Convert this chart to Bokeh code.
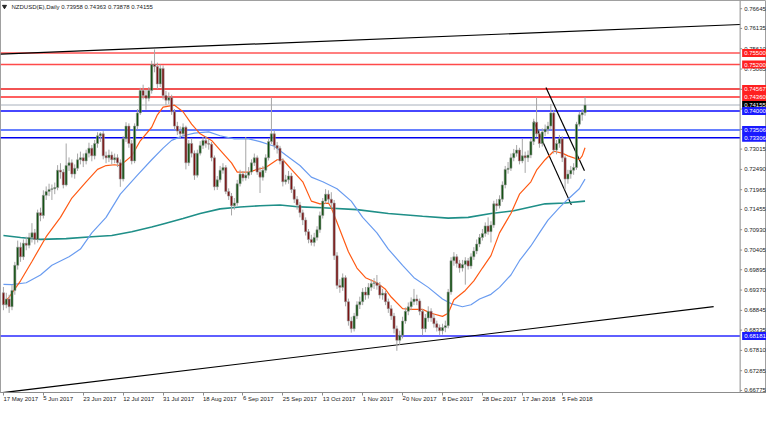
from bokeh.plotting import figure
from bokeh.models import ColumnDataSource, FixedTicker, Range1d, Label
from bokeh.core.properties import value
from bokeh.embed import file_html
from bokeh.resources import INLINE

symbol = "NZDUSD(E),Daily"

date_label_bars = [0, 14, 28, 42, 56, 70, 84, 98, 112, 126, 140, 154, 168, 182, 196]
date_labels = ["17 May 2017", "5 Jun 2017", "23 Jun 2017", "12 Jul 2017", "31 Jul 2017",
               "18 Aug 2017", "6 Sep 2017", "25 Sep 2017", "13 Oct 2017", "1 Nov 2017",
               "20 Nov 2017", "8 Dec 2017", "28 Dec 2017", "17 Jan 2018", "5 Feb 2018"]

price_ticks = [0.66775, 0.67285, 0.67810, 0.68335, 0.68845, 0.69370, 0.69895, 0.70405,
               0.70930, 0.71455, 0.71965, 0.72490, 0.73015, 0.73525, 0.74050, 0.74560,
               0.75085, 0.75610, 0.76135, 0.76645]

first_open = 0.6930
closes = [
    0.6899, 0.6914, 0.6894, 0.6936, 0.7001, 0.7048, 0.7023, 0.7058, 0.7053, 0.7073,
    0.7085, 0.7068, 0.7137, 0.7130, 0.7182, 0.7192, 0.7197, 0.7199, 0.7202, 0.7247,
    0.7242, 0.7209, 0.7259, 0.7266, 0.7237, 0.7252, 0.7274, 0.7279, 0.7271, 0.7291,
    0.7304, 0.7284, 0.7316, 0.7336, 0.7341, 0.7284, 0.7279, 0.7286, 0.7274, 0.7279,
    0.7266, 0.7224, 0.7328, 0.7361, 0.7316, 0.7271, 0.7361, 0.7395, 0.7453, 0.7440,
    0.7433, 0.7453, 0.7520, 0.7515, 0.7470, 0.7510, 0.7440, 0.7428, 0.7435, 0.7398,
    0.7361, 0.7348, 0.7341, 0.7358, 0.7266, 0.7316, 0.7291, 0.7234, 0.7291, 0.7311,
    0.7324, 0.7316, 0.7314, 0.7279, 0.7204, 0.7222, 0.7247, 0.7254, 0.7192, 0.7180,
    0.7155, 0.7162, 0.7212, 0.7237, 0.7227, 0.7234, 0.7242, 0.7266, 0.7279, 0.7242,
    0.7229, 0.7247, 0.7279, 0.7321, 0.7341, 0.7311, 0.7304, 0.7271, 0.7217, 0.7222,
    0.7232, 0.7197, 0.7172, 0.7157, 0.7137, 0.7118, 0.7088, 0.7068, 0.7060, 0.7073,
    0.7093, 0.7130, 0.7167, 0.7185, 0.7172, 0.7162, 0.7026, 0.6949, 0.6944, 0.6969,
    0.6907, 0.6857, 0.6837, 0.6870, 0.6899, 0.6907, 0.6932, 0.6924, 0.6944, 0.6954,
    0.6956, 0.6949, 0.6924, 0.6929, 0.6907, 0.6889, 0.6870, 0.6837, 0.6807, 0.6820,
    0.6857, 0.6882, 0.6894, 0.6907, 0.6914, 0.6909, 0.6882, 0.6837, 0.6865, 0.6882,
    0.6865, 0.6850, 0.6840, 0.6832, 0.6840, 0.6845, 0.6932, 0.7013, 0.7023, 0.7006,
    0.6994, 0.7003, 0.7013, 0.6999, 0.7023, 0.7038, 0.7056, 0.7073, 0.7083, 0.7103,
    0.7088, 0.7105, 0.7160, 0.7155, 0.7172, 0.7209, 0.7249, 0.7252, 0.7279, 0.7291,
    0.7299, 0.7271, 0.7284, 0.7279, 0.7286, 0.7321, 0.7371, 0.7341, 0.7316, 0.7346,
    0.7353, 0.7361, 0.7395, 0.7299, 0.7316, 0.7328, 0.7279, 0.7224, 0.7237, 0.7247,
    0.7254, 0.7366, 0.7390, 0.73958, 0.74155]
highs = [
    0.6945, 0.6930, 0.6925, 0.6950, 0.7010, 0.7065, 0.7060, 0.7068, 0.7075, 0.7085,
    0.7110, 0.7095, 0.7145, 0.7150, 0.7195, 0.7205, 0.7212, 0.7210, 0.7215, 0.7260,
    0.7265, 0.7250, 0.7316, 0.7280, 0.7275, 0.7262, 0.7290, 0.7295, 0.7290, 0.7300,
    0.7318, 0.7312, 0.7325, 0.7345, 0.7345, 0.7348, 0.7295, 0.7300, 0.7295, 0.7290,
    0.7288, 0.7275, 0.7335, 0.7371, 0.7368, 0.7325, 0.7368, 0.7405, 0.7460, 0.7468,
    0.7455, 0.7462, 0.7530, 0.7559, 0.7525, 0.7520, 0.7518, 0.7452, 0.7448, 0.7442,
    0.7405, 0.7372, 0.7360, 0.7368, 0.7362, 0.7325, 0.7330, 0.7298, 0.7300, 0.7322,
    0.7333, 0.7335, 0.7328, 0.7320, 0.7285, 0.7232, 0.7258, 0.7265, 0.7260, 0.7200,
    0.7188, 0.7175, 0.7222, 0.7248, 0.7245, 0.7333, 0.7255, 0.7275, 0.7290, 0.7285,
    0.7255, 0.7258, 0.7288, 0.7330, 0.7435, 0.7350, 0.7320, 0.7310, 0.7278, 0.7235,
    0.7245, 0.7240, 0.7205, 0.7180, 0.7165, 0.7145, 0.7125, 0.7095, 0.7080, 0.7085,
    0.7102, 0.7140, 0.7175, 0.7198, 0.7195, 0.7190, 0.7170, 0.7035, 0.6965, 0.6980,
    0.6975, 0.6915, 0.6868, 0.6878, 0.6908, 0.6920, 0.6942, 0.6945, 0.6955, 0.6965,
    0.6968, 0.6976, 0.6958, 0.6940, 0.6935, 0.6915, 0.6898, 0.6878, 0.6845, 0.6832,
    0.6868, 0.6892, 0.6905, 0.6918, 0.6940, 0.6925, 0.6915, 0.6888, 0.6875, 0.6895,
    0.6890, 0.6875, 0.6858, 0.6848, 0.6850, 0.6858, 0.6940, 0.7022, 0.7035, 0.7030,
    0.7015, 0.7015, 0.7022, 0.7020, 0.7032, 0.7048, 0.7068, 0.7082, 0.7095, 0.7112,
    0.7125, 0.7115, 0.7168, 0.7172, 0.7182, 0.7218, 0.7258, 0.7268, 0.7290, 0.7302,
    0.7312, 0.7305, 0.7328, 0.7295, 0.7298, 0.7330, 0.7380, 0.7435, 0.7350, 0.7355,
    0.7365, 0.7372, 0.7418, 0.7402, 0.7325, 0.7338, 0.7335, 0.7285, 0.7248, 0.7258,
    0.7265, 0.7372, 0.7398, 0.7405, 0.74363]
lows = [
    0.6885, 0.6890, 0.6878, 0.6885, 0.6925, 0.6990, 0.7010, 0.7015, 0.7040, 0.7045,
    0.7060, 0.7055, 0.7060, 0.7115, 0.7122, 0.7170, 0.7180, 0.7170, 0.7185, 0.7195,
    0.7225, 0.7200, 0.7205, 0.7245, 0.7228, 0.7225, 0.7245, 0.7262, 0.7255, 0.7262,
    0.7280, 0.7270, 0.7275, 0.7305, 0.7320, 0.7275, 0.7265, 0.7268, 0.7262, 0.7265,
    0.7255, 0.7204, 0.7218, 0.7320, 0.7305, 0.7262, 0.7265, 0.7352, 0.7390, 0.7430,
    0.7403, 0.7425, 0.7445, 0.7500, 0.7457, 0.7462, 0.7430, 0.7415, 0.7418, 0.7390,
    0.7352, 0.7338, 0.7330, 0.7332, 0.7249, 0.7258, 0.7280, 0.7222, 0.7228, 0.7285,
    0.7302, 0.7305, 0.7300, 0.7270, 0.7195, 0.7196, 0.7215, 0.7238, 0.7185, 0.7170,
    0.7130, 0.7145, 0.7155, 0.7205, 0.7218, 0.7220, 0.7225, 0.7235, 0.7258, 0.7235,
    0.7188, 0.7220, 0.7240, 0.7272, 0.7315, 0.7300, 0.7290, 0.7262, 0.7205, 0.7210,
    0.7212, 0.7188, 0.7162, 0.7145, 0.7125, 0.7105, 0.7078, 0.7058, 0.7052, 0.7050,
    0.7065, 0.7085, 0.7122, 0.7160, 0.7162, 0.7150, 0.7015, 0.6940, 0.6930, 0.6935,
    0.6895, 0.6845, 0.6827, 0.6830, 0.6862, 0.6888, 0.6898, 0.6912, 0.6915, 0.6935,
    0.6940, 0.6938, 0.6915, 0.6912, 0.6898, 0.6878, 0.6860, 0.6825, 0.6780, 0.6795,
    0.6812, 0.6850, 0.6872, 0.6885, 0.6898, 0.6898, 0.6872, 0.6820, 0.6828, 0.6855,
    0.6855, 0.6840, 0.6830, 0.6820, 0.6822, 0.6828, 0.6838, 0.6925, 0.7000, 0.6995,
    0.6982, 0.6985, 0.6951, 0.6990, 0.6992, 0.7015, 0.7030, 0.7048, 0.7065, 0.7075,
    0.7080, 0.7060, 0.7098, 0.7142, 0.7148, 0.7165, 0.7200, 0.7238, 0.7245, 0.7270,
    0.7282, 0.7262, 0.7265, 0.7240, 0.7268, 0.7278, 0.7312, 0.7332, 0.7305, 0.7308,
    0.7335, 0.7340, 0.7352, 0.7290, 0.7288, 0.7305, 0.7268, 0.7197, 0.7212, 0.7225,
    0.7235, 0.7248, 0.7360, 0.7375, 0.73878]

fast_ma_bars = [0, 2, 6, 10, 15, 20, 24, 29, 33, 36, 39, 41, 45, 48, 52, 54, 56, 60, 63, 66,
                69, 73, 76, 80, 82, 86, 89, 92, 96, 98, 101, 105, 108, 111, 114, 115, 118, 121, 124, 127,
                131, 134, 136, 140, 143, 147, 150, 154, 156, 158, 162, 165, 168, 171, 174, 178, 181, 185, 187, 190,
                193, 196, 198, 202, 203, 204]
fast_ma = [0.6902, 0.6919, 0.6961, 0.7011, 0.7075, 0.7125, 0.7175, 0.7217, 0.7249, 0.7259,
           0.7261, 0.7259, 0.7284, 0.7323, 0.7358, 0.7390, 0.7410, 0.7415, 0.7398, 0.7366,
           0.7341, 0.7324, 0.7299, 0.7266, 0.7242, 0.7242, 0.7249, 0.7254, 0.7274, 0.7274,
           0.7249, 0.7217, 0.7167, 0.7160, 0.7162, 0.7150, 0.7093, 0.7036, 0.6994, 0.6969,
           0.6956, 0.6939, 0.6919, 0.6889, 0.6887, 0.6887, 0.6877, 0.6869, 0.6877, 0.6912,
           0.6936, 0.6961, 0.6994, 0.7026, 0.7085, 0.7135, 0.7185, 0.7217, 0.7247, 0.7274,
           0.7296, 0.7291, 0.7284, 0.7274, 0.7284, 0.7305]

mid_ma_bars = [0, 3, 8, 13, 17, 23, 27, 31, 36, 41, 47, 52, 56, 59, 63, 67, 72, 76, 81, 86,
               90, 95, 99, 104, 108, 112, 117, 122, 126, 131, 135, 140, 144, 149, 154, 157, 161, 164, 167, 171,
               174, 178, 181, 185, 188, 191, 195, 198, 202, 204]
mid_ma = [0.6952, 0.6951, 0.6956, 0.6976, 0.7001, 0.7023, 0.7043, 0.7085, 0.7125, 0.7185,
          0.7234, 0.7274, 0.7304, 0.7324, 0.7336, 0.7343, 0.7346, 0.7336, 0.7328, 0.7328,
          0.7321, 0.7309, 0.7286, 0.7259, 0.7229, 0.7217, 0.7199, 0.7167, 0.7125, 0.7085,
          0.7043, 0.7001, 0.6969, 0.6944, 0.6914, 0.6902, 0.6894, 0.6899, 0.6914, 0.6926,
          0.6944, 0.6976, 0.7013, 0.7051, 0.7085, 0.7118, 0.7150, 0.7172, 0.7199, 0.7224]

slow_ma_bars = [0, 6, 13, 22, 31, 38, 45, 52, 56, 63, 69, 76, 83, 90, 97, 104, 112, 124, 135, 147,
                156, 163, 171, 179, 190, 197, 204]
slow_ma = [0.7078, 0.7073, 0.7068, 0.7070, 0.7075, 0.7078, 0.7088, 0.7100, 0.7108, 0.7122,
           0.7135, 0.7147, 0.7152, 0.7155, 0.7157, 0.7152, 0.7150, 0.7145, 0.7135, 0.7128,
           0.7123, 0.7125, 0.7135, 0.7142, 0.7160, 0.7162, 0.7167]

resistance_levels = [0.75500, 0.75200, 0.74567, 0.74360]
support_levels = [0.74000, 0.73506, 0.73306, 0.68181]
last_price = 0.74155

channel_top_bars = [-1.03, 258.4]
channel_top_prices = [0.75468, 0.76237]
channel_bottom_bars = [-1.03, 249.1]
channel_bottom_prices = [0.66710, 0.68943]
wedge_upper_bars = [190.3, 203.8]
wedge_upper_prices = [0.74607, 0.72458]
wedge_lower_bars = [185.9, 199.2]
wedge_lower_prices = [0.73739, 0.71573]

# ---------------------------------------------------------------
FONT = "Liberation Sans"
W, H = 766, 407
X0 = -1.03            # left edge of the chart area (bars)
X_AXIS = 258.4        # price-scale line (bars)
PX_PER_BAR = 2.851
X_END = X0 + W / PX_PER_BAR
Y0, Y1 = 0.66722, 0.76857
FRAME_H = 392.0
PX = (Y1 - Y0) / FRAME_H   # price per pixel
BX = 1.0 / PX_PER_BAR      # bars per pixel

opens = [first_open] + closes[:-1]
n = len(closes)
bars = list(range(n))
up = [c >= o for o, c in zip(opens, closes)]

p = figure(width=W, height=H, x_range=Range1d(X0, X_END), y_range=Range1d(Y0, Y1),
           output_backend="svg", toolbar_location=None, y_axis_location=None,
           min_border_left=0, min_border_top=0, min_border_right=0, min_border_bottom=0)
p.xgrid.visible = False
p.ygrid.visible = False
p.outline_line_color = "#a0a0a0"
p.background_fill_color = "white"
p.border_fill_color = "white"

ax = p.xaxis
ax.axis_line_color = "#8c8c8c"
ax.major_tick_line_color = "#8c8c8c"
ax.major_tick_out = 3
ax.major_tick_in = 0
ax.minor_tick_line_color = None
ax.major_label_text_font = FONT
ax.major_label_text_font_size = "6px"
ax.major_label_text_color = "#222222"
ax.major_label_orientation = -0.0001   # near-horizontal: labels start at their tick
ax.major_label_standoff = 3
ax.ticker = FixedTicker(ticks=date_label_bars)
ax.major_label_overrides = {float(b): t for b, t in zip(date_label_bars, date_labels)}

# horizontal levels (stop at the price scale)
res_colors = ["#ff5555", "#ff4a4a", "#ee1a1a", "#ff2a2a"]
sup_colors = ["#0a0aff", "#3355ff", "#0000ee", "#2a2aff"]
lvl_src = ColumnDataSource(dict(y=resistance_levels + support_levels + [last_price],
                                col=res_colors + sup_colors + ["#a8b0bc"],
                                w=[1.5] * 8 + [1.0]))
p.segment(x0=X0, y0="y", x1=X_AXIS, y1="y", source=lvl_src, line_color="col", line_width="w")

# trend lines
p.line(channel_top_bars, channel_top_prices, line_color="black", line_width=1.2)
p.line(channel_bottom_bars, channel_bottom_prices, line_color="black", line_width=1.2)
p.line(wedge_upper_bars, wedge_upper_prices, line_color="black", line_width=1.2)
p.line(wedge_lower_bars, wedge_lower_prices, line_color="black", line_width=1.2)

# moving averages
p.line(slow_ma_bars, slow_ma, line_color="#1f8f88", line_width=1.6)
p.line(mid_ma_bars, mid_ma, line_color="#6a9cf0", line_width=1.2)
p.line(fast_ma_bars, fast_ma, line_color="#ff5a14", line_width=1.2)

# candles
src = ColumnDataSource(dict(
    x=bars, high=highs, low=lows,
    top=[max(o, c) for o, c in zip(opens, closes)],
    bottom=[min(o, c) for o, c in zip(opens, closes)],
    fill=["#0d4f0d" if u else "#7a1010" for u in up],
))
p.segment(x0="x", y0="low", x1="x", y1="high", source=src, line_color="#a6a6a6", line_width=1)
p.vbar(x="x", width=0.75, top="top", bottom="bottom", source=src,
       fill_color="fill", line_color="#9a9a9a", line_width=0.6)

# price scale on the right (drawn on the chart's own y scale)
p.segment(x0=X_AXIS, y0=Y0, x1=X_AXIS, y1=Y1, line_color="#8c8c8c", line_width=1)
tick_src = ColumnDataSource(dict(y=price_ticks, txt=[f"{t:.5f}" for t in price_ticks]))
p.segment(x0=X_AXIS, y0="y", x1=X_AXIS + 2 * BX, y1="y", source=tick_src, line_color="#8c8c8c")
p.text(x=X_AXIS + 4 * BX, y="y", text="txt", source=tick_src, text_font=value(FONT),
       text_font_size="6px", text_color="#222222", text_align="left", text_baseline="middle")

box_levels = resistance_levels + [last_price] + support_levels
box_colors = ["#ff2020"] * 4 + ["#000000"] + ["#1a1aff"] * 4
box_src = ColumnDataSource(dict(
    y=box_levels, col=box_colors, txt=[f"{v:.5f}" for v in box_levels],
    b=[v - 4 * PX for v in box_levels], t=[v + 4 * PX for v in box_levels]))
p.quad(left=X_AXIS + 2 * BX, right=X_END, bottom="b", top="t", source=box_src,
       fill_color="col", line_color=None)
p.text(x=X_AXIS + 4 * BX, y="y", text="txt", source=box_src, text_font=value(FONT),
       text_font_size="6px", text_color="white", text_align="left", text_baseline="middle")

# title
ty = Y1 - 6 * PX
p.scatter([X0 + 4 * BX], [ty], marker="inverted_triangle", size=4, color="#222222")
title_text = f"{symbol}  {opens[-1]:.5f} {highs[-1]:.5f} {lows[-1]:.5f} {closes[-1]:.5f}"
p.add_layout(Label(x=X0 + 11 * BX, y=ty, x_units="data", y_units="data", text=title_text,
                   text_font=FONT, text_font_size="6px", text_color="#222222",
                   text_align="left", text_baseline="middle"))

open("out.html", "w").write(file_html(p, INLINE))
